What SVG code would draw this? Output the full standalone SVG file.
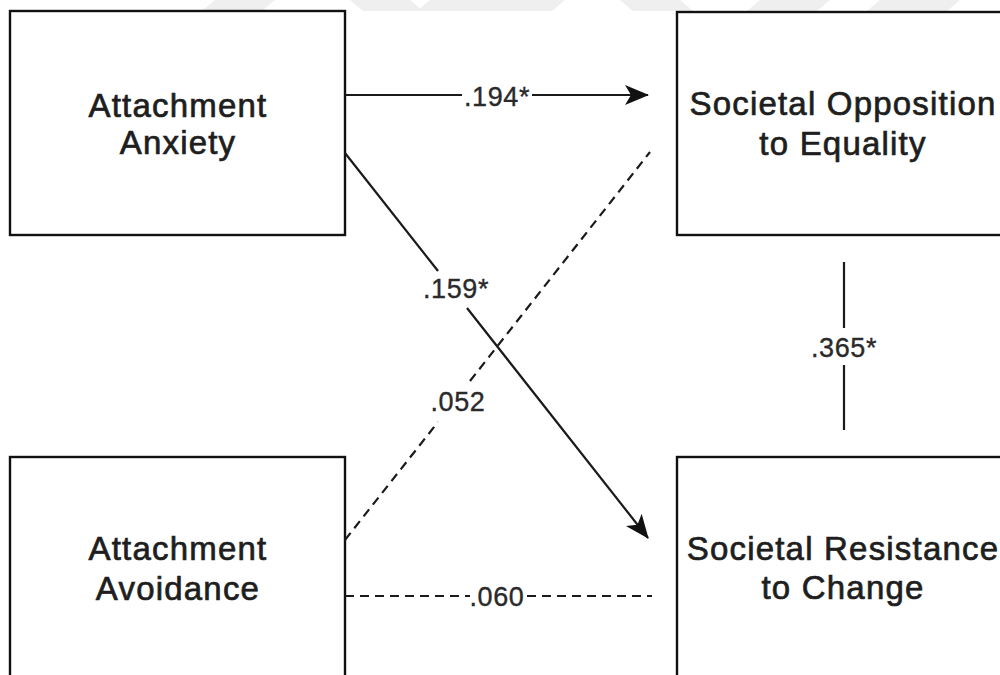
<svg xmlns="http://www.w3.org/2000/svg" width="1000" height="675" viewBox="0 0 1000 675">
  <style>
    .box { fill: #ffffff; stroke: #111111; stroke-width: 2.4; }
    .ntext { font-family: "Liberation Sans", Arial, sans-serif; font-size: 33px; letter-spacing: 1.2px; fill: #1e1e1e; stroke: #1e1e1e; stroke-width: 0.7px; text-anchor: middle; }
    .etext { font-family: "Liberation Sans", Arial, sans-serif; font-size: 27px; letter-spacing: 0.6px; fill: #2a2a2a; stroke: #2a2a2a; stroke-width: 0.35px; text-anchor: middle; }
    .solid { fill: none; stroke: #1a1a1a; stroke-width: 2.2; }
    .dash { fill: none; stroke: #1a1a1a; stroke-width: 2.2; stroke-dasharray: 9 6; }
    .wm { fill: #efefef; }
  </style>
  <defs>
    <marker id="arrow" viewBox="0 0 24 22" refX="23" refY="11" markerWidth="24" markerHeight="22" markerUnits="userSpaceOnUse" orient="auto">
      <path d="M0,1 L24,11 L0,21 L6,11 Z" fill="#111111"/>
    </marker>
  </defs>
  <rect width="1000" height="675" fill="#ffffff"/>
  <g id="watermark">
    <polygon class="wm" points="215,0 275,0 262,11 202,11"/>
    <polygon class="wm" points="350,0 410,0 423,11 363,11"/>
    <polygon class="wm" points="430,0 565,0 552,11 417,11"/>
    <polygon class="wm" points="620,0 680,0 693,11 633,11"/>
    <polygon class="wm" points="760,0 830,0 817,11 747,11"/>
    <polygon class="wm" points="880,0 960,0 947,11 867,11"/>
  </g>
  <g id="node-anxiety">
    <rect class="box" x="10" y="11" width="335" height="224"/>
    <text class="ntext" x="178" y="117">Attachment</text>
    <text class="ntext" x="178" y="154">Anxiety</text>
  </g>
  <g id="node-opposition">
    <rect class="box" x="677" y="12" width="340" height="223"/>
    <text class="ntext" x="843" y="115">Societal Opposition</text>
    <text class="ntext" x="843" y="155">to Equality</text>
  </g>
  <g id="node-avoidance">
    <rect class="box" x="10" y="457" width="335" height="240"/>
    <text class="ntext" x="178" y="560">Attachment</text>
    <text class="ntext" x="178" y="600">Avoidance</text>
  </g>
  <g id="node-resistance">
    <rect class="box" x="677" y="457" width="340" height="240"/>
    <text class="ntext" x="843" y="560">Societal Resistance</text>
    <text class="ntext" x="843" y="599">to Change</text>
  </g>
  <g id="connectors">
    <!-- .194* -->
    <line class="solid" x1="345" y1="95" x2="462" y2="95"/>
    <line class="solid" x1="532" y1="95" x2="648" y2="95" marker-end="url(#arrow)"/>
    <text class="etext" x="497" y="106">.194*</text>
    <!-- .159* -->
    <line class="solid" x1="345" y1="153" x2="438" y2="271"/>
    <line class="solid" x1="467" y1="308" x2="648" y2="538" marker-end="url(#arrow)"/>
    <text class="etext" x="456" y="298">.159*</text>
    <!-- .052 -->
    <line class="dash" x1="345" y1="540" x2="438" y2="422"/>
    <line class="dash" x1="470" y1="381" x2="650" y2="152"/>
    <text class="etext" x="458" y="411">.052</text>
    <!-- .365* -->
    <line class="solid" x1="844" y1="262" x2="844" y2="328"/>
    <line class="solid" x1="844" y1="365" x2="844" y2="430"/>
    <text class="etext" x="844" y="357">.365*</text>
    <!-- .060 -->
    <line class="dash" x1="345" y1="596" x2="470" y2="596"/>
    <line class="dash" x1="527" y1="596" x2="652" y2="596"/>
    <text class="etext" x="497" y="606">.060</text>
  </g>
</svg>
